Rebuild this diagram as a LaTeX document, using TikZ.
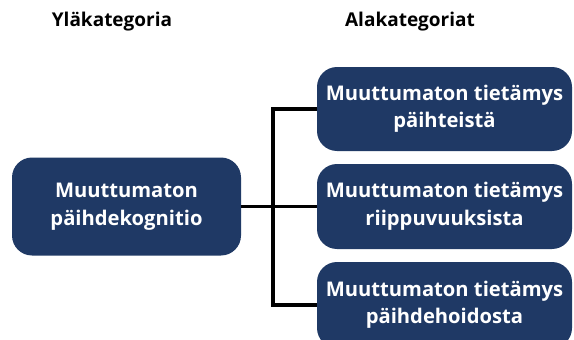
\documentclass[tikz,border=0pt]{standalone}
\usepackage{fontspec}
\setmainfont{Open Sans}
\usepackage{tikz}
\usetikzlibrary{positioning,calc}
\definecolor{tummansininen}{RGB}{31,57,101}
\tikzstyle{laatikko} = [rectangle, rounded corners=20pt, fill=tummansininen, text=white,
	font=\fontsize{20.2}{27.5}\selectfont\bfseries, align=center, inner sep=0pt]
\tikzstyle{otsikko} = [font=\fontsize{19}{24}\selectfont\bfseries, text=black]
\tikzstyle{line} = [line width=3.2pt, black]

\begin{document}
\begin{tikzpicture}[x=1pt, y=-1pt]
	\useasboundingbox[fill=white] (0,0) rectangle (574,340);

	% Otsikot
	\node[otsikko] (ylaotsikko) at (112,22) {Yläkategoria};
	\node[otsikko] (alaotsikko) at (410,22) {Alakategoriat};

	% Laatikot
	\node[laatikko, minimum width=229pt, minimum height=98pt] (yla) at (126.5,206.5) {Muuttumaton\\päihdekognitio};
	\node[laatikko, minimum width=255pt, minimum height=84pt] (ala1) at (444.5,109) {Muuttumaton tietämys\\päihteistä};
	\node[laatikko, minimum width=255pt, minimum height=85pt] (ala2) at (444.5,206.5) {Muuttumaton tietämys\\riippuvuuksista};
	\node[laatikko, minimum width=255pt, minimum height=86pt] (ala3) at (444.5,305) {Muuttumaton tietämys\\päihdehoidosta};

	% Yhteydet
	\coordinate (haara) at (273,206.5);
	\draw[line] (yla.east) -- (haara);
	\draw[line] (haara) |- (ala1.west);
	\draw[line] (haara) |- (ala2.west);
	\draw[line] (haara) |- (ala3.west);
\end{tikzpicture}
\end{document}
